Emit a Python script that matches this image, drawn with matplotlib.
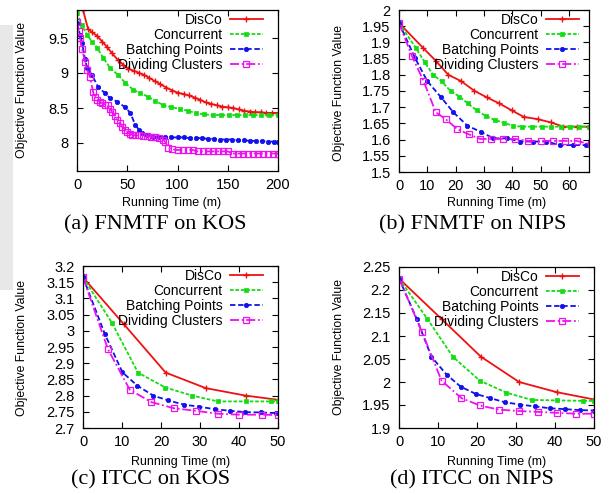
import matplotlib
matplotlib.use("Agg")
import matplotlib.pyplot as plt
from matplotlib.patches import Rectangle
from matplotlib.ticker import FuncFormatter
import numpy as np

plt.rcParams['font.family'] = ['Liberation Sans', 'DejaVu Sans']

labels = ["DisCo", "Concurrent", "Batching Points", "Dividing Clusters"]

# (a) FNMTF on KOS
a_disco_x = [0, 6, 11, 15, 20, 25, 30, 35, 41, 46, 51, 57, 62, 67, 72, 78, 83, 89, 95, 100,
             106, 111, 117, 122, 128, 133, 139, 144, 150, 155, 161, 166, 172, 177, 183, 188, 194, 200]
a_disco_y = [10.2, 9.9, 9.63, 9.58, 9.53, 9.45, 9.37, 9.28, 9.18, 9.12, 9.06, 9.03, 9.0, 8.97, 8.93,
             8.88, 8.84, 8.79, 8.75, 8.72, 8.70, 8.68, 8.65, 8.62, 8.58, 8.56, 8.54, 8.52, 8.51, 8.50,
             8.48, 8.46, 8.45, 8.44, 8.44, 8.43, 8.43, 8.43]
a_conc_x = [0, 5, 10, 15, 20, 26, 33, 41, 48, 56, 63, 71, 78, 86, 94, 102, 110, 118, 126, 135,
            143, 151, 159, 167, 175, 183, 191, 200]
a_conc_y = [9.86, 9.68, 9.54, 9.45, 9.36, 9.22, 9.07, 8.97, 8.86, 8.76, 8.71, 8.66, 8.60, 8.54,
            8.51, 8.49, 8.46, 8.43, 8.41, 8.40, 8.40, 8.40, 8.40, 8.40, 8.40, 8.40, 8.40, 8.40]
a_batch_x = [0, 3, 5, 8, 10, 15, 21, 28, 33, 40, 48, 53, 58, 62, 65, 70, 76, 82, 88, 94, 100, 106,
             112, 118, 124, 130, 136, 142, 148, 154, 160, 166, 172, 178, 184, 190, 196, 200]
a_batch_y = [9.71, 9.55, 9.43, 9.20, 9.07, 8.97, 8.80, 8.71, 8.64, 8.59, 8.51, 8.43, 8.26, 8.18,
             8.14, 8.11, 8.09, 8.09, 8.08, 8.08, 8.08, 8.08, 8.07, 8.07, 8.07, 8.06, 8.06, 8.05,
             8.05, 8.05, 8.04, 8.04, 8.03, 8.03, 8.03, 8.02, 8.02, 8.02]
a_div_x = [0, 2, 3, 5, 8, 10, 13, 16, 18, 20, 23, 25, 28, 31, 33, 35, 38, 40, 43, 45, 48, 50, 53,
           55, 58, 62, 66, 70, 74, 78, 82, 86, 88, 91, 95, 100, 105, 110, 115, 120, 125, 130, 135,
           140, 145, 150, 155, 160, 165, 170, 175, 180, 185, 190, 195, 200]
a_div_y = [9.73, 9.6, 9.5, 9.35, 9.16, 9.05, 8.94, 8.73, 8.66, 8.61, 8.59, 8.57, 8.55, 8.54, 8.49,
           8.44, 8.38, 8.33, 8.28, 8.23, 8.19, 8.16, 8.13, 8.12, 8.11, 8.11, 8.10, 8.10, 8.09, 8.08,
           8.07, 8.05, 8.01, 7.93, 7.91, 7.90, 7.90, 7.90, 7.90, 7.88, 7.88, 7.88, 7.88, 7.88, 7.88,
           7.88, 7.85, 7.85, 7.85, 7.85, 7.85, 7.85, 7.85, 7.85, 7.85, 7.85]

# (b) FNMTF on NIPS
b_disco_x = [0, 8.6, 13, 17.4, 22, 26.5, 31, 35.3, 39.8, 44, 49, 53.5, 58, 62.6, 67]
b_disco_y = [1.96, 1.882, 1.843, 1.80, 1.78, 1.751, 1.73, 1.712, 1.69, 1.67, 1.663, 1.653, 1.64, 1.64, 1.64]
b_conc_x = [0, 6, 9, 12, 15, 18.2, 21.3, 24.2, 27.4, 30.6, 33.9, 37, 40.3, 43.5, 47, 50.3, 53.6,
            57, 60.3, 63.6, 67]
b_conc_y = [1.96, 1.882, 1.84, 1.80, 1.78, 1.75, 1.733, 1.712, 1.69, 1.673, 1.66, 1.652, 1.642,
            1.64, 1.64, 1.64, 1.64, 1.64, 1.64, 1.64, 1.64]
b_batch_x = [0, 5.6, 10, 14.7, 19.2, 24.1, 28.8, 33.3, 38, 42.7, 47.4, 52, 56.8, 61.5, 66]
b_batch_y = [1.96, 1.853, 1.78, 1.732, 1.684, 1.643, 1.624, 1.604, 1.604, 1.594, 1.594, 1.594,
             1.583, 1.583, 1.583]
b_div_x = [0, 4.5, 8.6, 13, 16.5, 20.6, 24.7, 28.6, 32.6, 36.8, 41, 45.6, 50, 54.4, 58.4, 62.6, 67.8]
b_div_y = [1.96, 1.859, 1.782, 1.684, 1.663, 1.632, 1.616, 1.602, 1.602, 1.602, 1.602, 1.596,
           1.596, 1.596, 1.596, 1.596, 1.585]

# (c) ITCC on KOS
c_disco_x = [0, 10.5, 21.2, 31.5, 41.7, 50]
c_disco_y = [3.165, 3.02, 2.871, 2.823, 2.80, 2.787]
c_conc_x = [0, 7.4, 14.1, 21.1, 28, 34.6, 41.7, 48.3, 50]
c_conc_y = [3.165, 3.025, 2.871, 2.825, 2.80, 2.782, 2.782, 2.782, 2.782]
c_batch_x = [0, 5.6, 10.1, 13.9, 18, 21.9, 25.9, 29.7, 33.8, 37.8, 41.6, 45.6, 49.6]
c_batch_y = [3.165, 2.99, 2.872, 2.831, 2.80, 2.785, 2.772, 2.766, 2.758, 2.753, 2.749, 2.748, 2.746]
c_div_x = [0, 6.4, 12, 17.5, 23.3, 28.9, 34.6, 40.1, 45.8, 50]
c_div_y = [3.165, 2.943, 2.818, 2.78, 2.761, 2.753, 2.744, 2.741, 2.741, 2.74]

# (d) ITCC on NIPS
d_disco_x = [0, 10.9, 21, 30.8, 40.4, 50]
d_disco_y = [2.225, 2.137, 2.055, 2.0, 1.978, 1.962]
d_conc_x = [0, 7.2, 13.8, 20.7, 27.5, 34, 40.5, 47.2, 50]
d_conc_y = [2.225, 2.138, 2.055, 2.003, 1.977, 1.961, 1.96, 1.959, 1.959]
d_batch_x = [0, 4.5, 8.3, 12.2, 15.8, 19.7, 23.4, 27.1, 31, 34.8, 38.6, 42.5, 46.3, 50]
d_batch_y = [2.225, 2.138, 2.055, 2.016, 1.99, 1.974, 1.965, 1.956, 1.951, 1.947, 1.943, 1.941,
             1.939, 1.938]
d_div_x = [0, 5.9, 10.9, 16, 20.7, 25.6, 30.7, 35.6, 40.4, 45.5, 50]
d_div_y = [2.225, 2.109, 2.003, 1.965, 1.949, 1.94, 1.937, 1.935, 1.933, 1.931, 1.931]

W, H = 612, 495
fig = plt.figure(figsize=(W / 100, H / 100), dpi=100)

# faint scan shading on the left edge
fig.patches.append(Rectangle((0, 1 - 290 / H), 13 / W, 265 / H, transform=fig.transFigure,
                             color='#e8e8e8', zorder=0, lw=0))


def px_axes(l, t, r, b):
    return fig.add_axes([l / W, 1 - b / H, (r - l) / W, (b - t) / H])


styles = [
    dict(color='#ee1111', ls='-', marker='+', ms=5, mew=1.0),
    dict(color='#11dd11', ls=(0, (2, 1)), marker='s', ms=2.6, mew=0.5),
    dict(color='#1111ee', ls=(0, (3, 1.5)), marker='o', ms=3.2, mew=0.5),
    dict(color='#ee11ee', ls=(0, (5, 1.5, 1, 1.5)), marker='s', ms=4, mew=0.9, mfc='none'),
]

panels = [
    dict(box=(77, 10, 278, 171), xlim=(0, 200), ylim=(7.6, 9.9), xt=np.arange(0, 201, 50),
         yt=[8, 8.5, 9, 9.5], data=[(a_disco_x, a_disco_y), (a_conc_x, a_conc_y),
                                    (a_batch_x, a_batch_y), (a_div_x, a_div_y)],
         gap=15, cap="(a) FNMTF on KOS", capx=155, capy=225, xlx=172, xly=203, ylx=22, yly=90),
    dict(box=(399, 10, 589, 172), xlim=(0, 67), ylim=(1.5, 2.0), xt=np.arange(0, 61, 10),
         yt=np.arange(1.5, 2.001, 0.05), data=[(b_disco_x, b_disco_y), (b_conc_x, b_conc_y),
                                               (b_batch_x, b_batch_y), (b_div_x, b_div_y)],
         gap=10, cap="(b) FNMTF on NIPS", capx=473, capy=225, xlx=497, xly=203, ylx=339, yly=93),
    dict(box=(83, 266, 278, 428), xlim=(0, 50), ylim=(2.7, 3.2), xt=np.arange(0, 51, 10),
         yt=np.arange(2.7, 3.201, 0.05), data=[(c_disco_x, c_disco_y), (c_conc_x, c_conc_y),
                                               (c_batch_x, c_batch_y), (c_div_x, c_div_y)],
         gap=15, cap="(c) ITCC on KOS", capx=151, capy=480, xlx=181, xly=462, ylx=22, yly=348),
    dict(box=(399, 267, 594, 428), xlim=(0, 50), ylim=(1.9, 2.25), xt=np.arange(0, 51, 10),
         yt=np.arange(1.9, 2.251, 0.05), data=[(d_disco_x, d_disco_y), (d_conc_x, d_conc_y),
                                               (d_batch_x, d_batch_y), (d_div_x, d_div_y)],
         gap=15, cap="(d) ITCC on NIPS", capx=472, capy=480, xlx=497, xly=462, ylx=339, yly=347),
]

fmt = FuncFormatter(lambda v, p: '%g' % round(v, 3))

for p in panels:
    l, t, r, b = p['box']
    ax = px_axes(l, t, r, b)
    for (xs, ys), lab, st in zip(p['data'], labels, styles):
        ax.plot(xs, ys, label=lab, lw=1.3, **st)
    ax.set_xlim(*p['xlim'])
    ax.set_ylim(*p['ylim'])
    ax.set_xticks(p['xt'])
    ax.set_yticks(p['yt'])
    ax.xaxis.set_major_formatter(fmt)
    ax.yaxis.set_major_formatter(fmt)
    ax.tick_params(direction='in', top=True, right=True, length=4, width=0.8, labelsize=10.5)
    ax.tick_params(axis='x', pad=5)
    ax.tick_params(axis='y', pad=6)
    for s in ax.spines.values():
        s.set_linewidth(0.9)
    w, h = r - l, b - t
    ax.legend(loc='upper right', bbox_to_anchor=(1 - p['gap'] / w, 1 - 3 / h), frameon=False,
              markerfirst=False, fontsize=10, handlelength=2.4, handletextpad=0.5,
              labelspacing=0.08, borderpad=0, borderaxespad=0, numpoints=1)
    fig.text(p['xlx'] / W, 1 - p['xly'] / H, "Running Time (m)", fontsize=9,
             ha='center', va='center')
    fig.text(p['ylx'] / W, 1 - p['yly'] / H, "Objective Function Value", fontsize=8.8,
             ha='center', va='center', rotation=90)
    fig.text(p['capx'] / W, 1 - p['capy'] / H, p['cap'], fontsize=16,
             family='Liberation Serif', ha='center', va='center')

fig.savefig("out.png", dpi=100)
